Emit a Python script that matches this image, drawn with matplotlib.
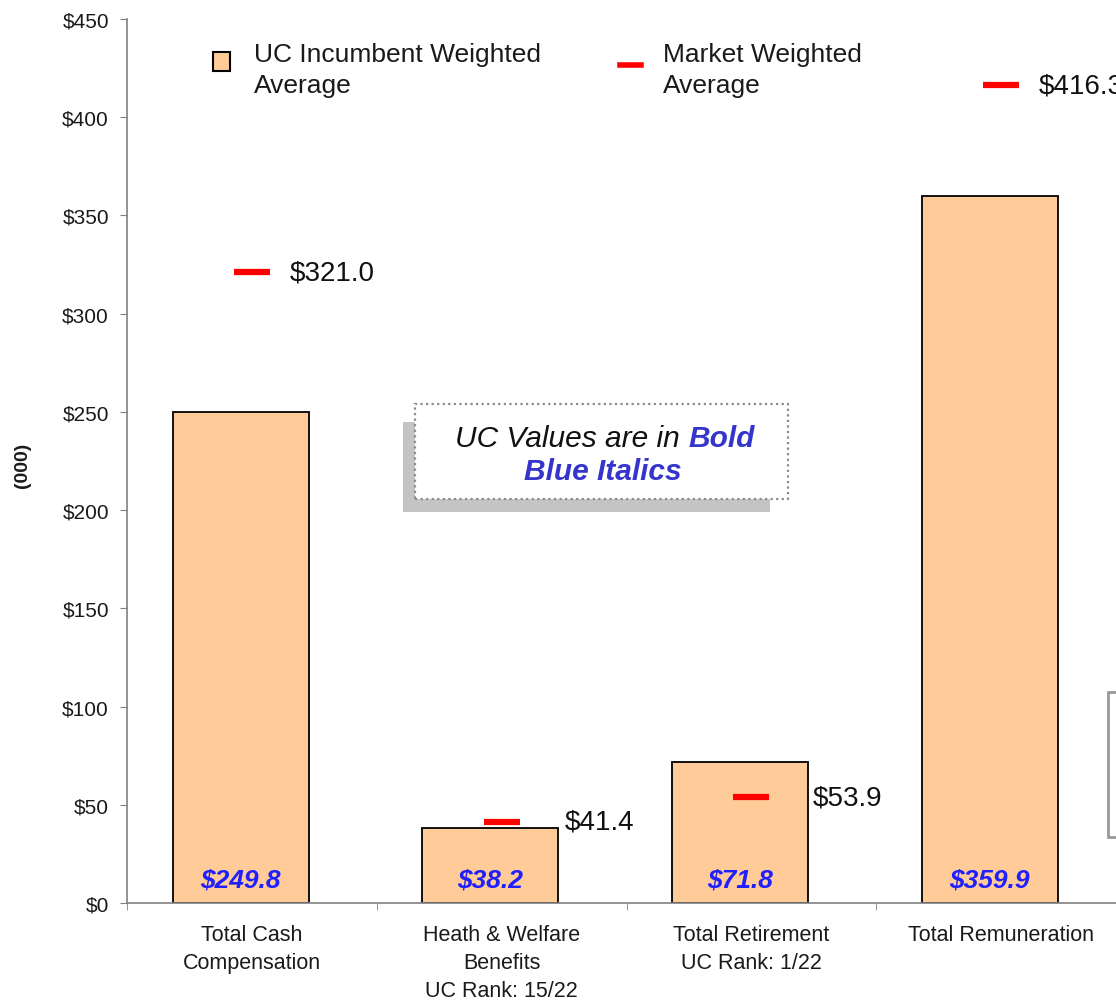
import matplotlib
matplotlib.use('Agg')
import matplotlib.pyplot as plt
from matplotlib.patches import Rectangle
from matplotlib.lines import Line2D
from matplotlib.text import Annotation
import numpy as np

# ---- data ----
categories = ["Total Cash\nCompensation",
              "Heath & Welfare\nBenefits\nUC Rank: 15/22",
              "Total Retirement\nUC Rank: 1/22",
              "Total Remuneration"]
uc_values = [249.8, 38.2, 71.8, 359.9]
market_values = [321.0, 41.4, 53.9, 416.3]
y_ticks = [0, 50, 100, 150, 200, 250, 300, 350, 400, 450]
y_tick_labels = ["$0", "$50", "$100", "$150", "$200", "$250", "$300", "$350", "$400", "$450"]

# ---- style ----
label_dx_px = [38, 63, 61, 38]   # horizontal offset of market labels (pixels)
bar_color = '#FFCC99'
value_blue = '#1f1fff'
box_blue = '#3535cc'

plt.rcParams['font.family'] = ['Liberation Sans', 'DejaVu Sans']

W, H = 1116, 1003
fig = plt.figure(figsize=(W / 100, H / 100), dpi=100)
fig.patch.set_facecolor('white')


def fx(px):
    return px / W


def fy(py):
    return 1 - py / H


ax = fig.add_axes([fx(127), fy(904), 999 / W, 884 / H])
ax.set_xlim(0, 4)
ax.set_ylim(0, 450)

n = len(categories)
centers = np.arange(n) + 0.5
bar_x = centers - 0.045

ax.bar(bar_x, uc_values, width=0.545, color=bar_color, edgecolor='black',
       linewidth=1.3, zorder=2)

ax.plot(centers, market_values, linestyle='none', marker='_', markersize=26,
        markeredgewidth=4.5, color='#ff0000', zorder=3, clip_on=False)

for xc, v, dx in zip(centers, market_values, label_dx_px):
    ax.annotate(f"${v:.1f}", xy=(xc, v), xytext=(dx * 0.72, 0),
                textcoords='offset points', va='center', ha='left',
                fontsize=20, color='#111111', annotation_clip=False)

for xb, v in zip(bar_x, uc_values):
    ax.text(xb, 12.0, f"${v:.1f}", ha='center', va='center', fontsize=19,
            fontweight='bold', style='italic', color=value_blue, zorder=4)

# axes styling
for s in ['top', 'right']:
    ax.spines[s].set_visible(False)
for s in ['left', 'bottom']:
    ax.spines[s].set_color('#808080')
    ax.spines[s].set_linewidth(1.2)

ax.set_yticks(y_ticks)
ax.set_yticklabels(y_tick_labels)
ax.tick_params(axis='y', length=5, color='#808080', labelsize=15, pad=8,
               labelcolor='#1a1a1a')
ax.set_xticks(centers)
ax.set_xticklabels(categories, linespacing=1.45)
ax.tick_params(axis='x', length=0, labelsize=15.5, pad=15, labelcolor='#1a1a1a')
ax.set_xticks(np.arange(n + 1), minor=True)
ax.tick_params(axis='x', which='minor', length=5, color='#808080')

fig.text(fx(22), fy(465), "(000)", rotation=90, fontsize=14, fontweight='bold',
         ha='center', va='center', color='#1a1a1a')

# ---- legend (manual) ----
fig.patches.append(Rectangle((fx(213), fy(72)), 17 / W, 19 / H,
                             transform=fig.transFigure, facecolor=bar_color,
                             edgecolor='black', linewidth=1.5))
fig.text(fx(254), fy(43), "UC Incumbent Weighted\nAverage", fontsize=19,
         va='top', ha='left', linespacing=1.35, color='#1a1a1a')
fig.lines.append(Line2D([fx(620), fx(641)], [fy(66), fy(66)],
                        transform=fig.transFigure, color='#ff0000', linewidth=4))
fig.text(fx(663), fy(43), "Market Weighted\nAverage", fontsize=19,
         va='top', ha='left', linespacing=1.35, color='#1a1a1a')

# ---- annotation box ----
fig.patches.append(Rectangle((fx(403), fy(513)), 367 / W, 90 / H,
                             transform=fig.transFigure, facecolor='#c4c4c4',
                             edgecolor='none', zorder=5))
fig.patches.append(Rectangle((fx(415), fy(500)), 373 / W, 95 / H,
                             transform=fig.transFigure, facecolor='white',
                             edgecolor='#8a8a8a', linewidth=1.6,
                             linestyle=(0, (1, 1.5)), zorder=6))
t1 = fig.text(fx(455), fy(453), "UC Values are in", fontsize=21.5, style='italic',
              ha='left', va='bottom', color='#111111', zorder=7)
bold_word = Annotation("Bold", xy=(1, 0), xycoords=t1, xytext=(6, 0),
                       textcoords='offset points', ha='left', va='bottom',
                       fontsize=21.5, style='italic', fontweight='bold',
                       color=box_blue, zorder=7, annotation_clip=False)
fig.add_artist(bold_word)
fig.text(fx(603), fy(472), "Blue Italics", fontsize=21.5, style='italic',
         fontweight='bold', ha='center', va='center', color=box_blue, zorder=7)

# partially visible box at right edge
fig.patches.append(Rectangle((fx(1108), fy(838)), 30 / W, 145 / H,
                             transform=fig.transFigure, facecolor='white',
                             edgecolor='#999999', linewidth=2))

fig.savefig('out.png', dpi=100)
